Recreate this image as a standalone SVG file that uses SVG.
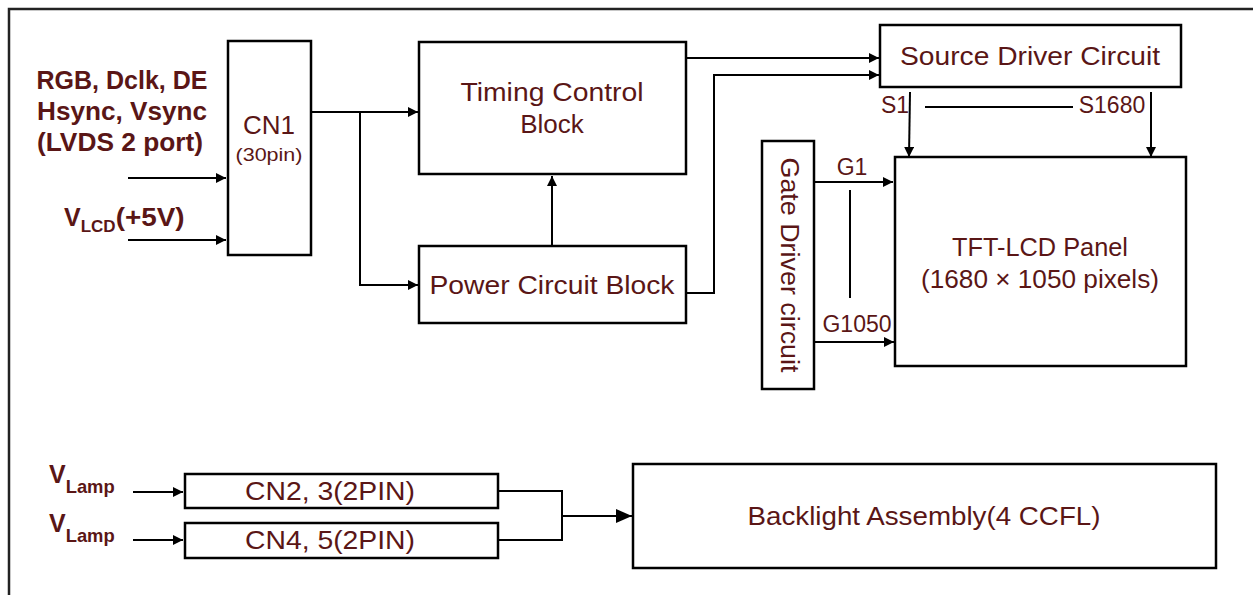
<svg xmlns="http://www.w3.org/2000/svg" width="1253" height="595" viewBox="0 0 1253 595">
<style>
.box{fill:#fff;stroke:#000;stroke-width:2.5}
.ln{fill:none;stroke:#000;stroke-width:2}
.t{font-family:"Liberation Sans",Arial,sans-serif;fill:#5a1616;font-size:26px;text-anchor:middle}
.s{font-family:"Liberation Sans",Arial,sans-serif;fill:#5a1616;font-size:23px;text-anchor:middle}
.b{font-family:"Liberation Sans",Arial,sans-serif;fill:#5a1616;font-size:25px;font-weight:bold}
</style>
<defs>
<marker id="ah" viewBox="0 0 10 10" refX="10" refY="5" markerWidth="10" markerHeight="10" markerUnits="userSpaceOnUse" orient="auto">
<path d="M0,0 L10,5 L0,10 z" fill="#000"/>
</marker>
<marker id="ahL" viewBox="0 0 16 14" refX="16" refY="7" markerWidth="16" markerHeight="14" markerUnits="userSpaceOnUse" orient="auto">
<path d="M0,0 L16,7 L0,14 z" fill="#000"/>
</marker>
</defs>
<rect x="0" y="0" width="1253" height="595" fill="#fff"/>
<rect x="9" y="9" width="1260" height="600" fill="none" stroke="#222" stroke-width="2.5"/>

<g id="labels">
<text class="b" x="122" y="89" text-anchor="middle" textLength="171" lengthAdjust="spacingAndGlyphs">RGB, Dclk, DE</text>
<text class="b" x="122" y="120" text-anchor="middle" textLength="170" lengthAdjust="spacingAndGlyphs">Hsync, Vsync</text>
<text class="b" x="120" y="151" text-anchor="middle" textLength="166" lengthAdjust="spacingAndGlyphs">(LVDS 2 port)</text>
<text class="b" x="64" y="226">V<tspan style="font-size:17px" dy="6">LCD</tspan><tspan dy="-6" textLength="69" lengthAdjust="spacingAndGlyphs">(+5V)</tspan></text>
<text class="b" x="49" y="483">V<tspan style="font-size:19px" dy="10" textLength="49" lengthAdjust="spacingAndGlyphs">Lamp</tspan></text>
<text class="b" x="49" y="532">V<tspan style="font-size:19px" dy="10" textLength="49" lengthAdjust="spacingAndGlyphs">Lamp</tspan></text>
</g>

<g id="cn1">
<rect class="box" x="228" y="41" width="83" height="214"/>
<text class="t" x="269" y="134">CN1</text>
<text class="t" x="269" y="161" style="font-size:18px" textLength="67" lengthAdjust="spacingAndGlyphs">(30pin)</text>
</g>
<g id="timing">
<rect class="box" x="419" y="42" width="267" height="132"/>
<text class="t" x="552" y="101" textLength="183" lengthAdjust="spacingAndGlyphs">Timing Control</text>
<text class="t" x="552" y="133">Block</text>
</g>
<g id="power">
<rect class="box" x="419" y="246" width="267" height="77"/>
<text class="t" x="552" y="294" textLength="245" lengthAdjust="spacingAndGlyphs">Power Circuit Block</text>
</g>
<g id="source">
<rect class="box" x="880" y="25" width="301" height="62"/>
<text class="t" x="1030" y="65" textLength="260" lengthAdjust="spacingAndGlyphs">Source Driver Circuit</text>
</g>
<g id="gate">
<rect class="box" x="762" y="141" width="52" height="248"/>
<text class="t" transform="translate(781,265) rotate(90)" x="0" y="0" textLength="215" lengthAdjust="spacingAndGlyphs">Gate Driver circuit</text>
</g>
<g id="panel">
<rect class="box" x="895" y="157" width="291" height="209"/>
<text class="t" x="1040" y="256" textLength="176" lengthAdjust="spacingAndGlyphs">TFT-LCD Panel</text>
<text class="t" x="1040" y="288" textLength="238" lengthAdjust="spacingAndGlyphs">(1680 × 1050 pixels)</text>
</g>
<g id="cn23">
<rect class="box" x="185" y="474" width="313" height="34"/>
<text class="t" x="330" y="500" textLength="170" lengthAdjust="spacingAndGlyphs">CN2, 3(2PIN)</text>
</g>
<g id="cn45">
<rect class="box" x="185" y="523" width="313" height="35"/>
<text class="t" x="330" y="549" textLength="170" lengthAdjust="spacingAndGlyphs">CN4, 5(2PIN)</text>
</g>
<g id="backlight">
<rect class="box" x="633" y="464" width="583" height="104"/>
<text class="t" x="924" y="525" textLength="353" lengthAdjust="spacingAndGlyphs">Backlight Assembly(4 CCFL)</text>
</g>

<g id="signal-labels">
<text class="s" x="895" y="113">S1</text>
<text class="s" x="1112" y="113">S1680</text>
<text class="s" x="852" y="175">G1</text>
<text class="s" x="857" y="332">G1050</text>
</g>

<g id="connectors">
<line class="ln" x1="128" y1="178" x2="226" y2="178" marker-end="url(#ah)"/>
<line class="ln" x1="128" y1="240" x2="226" y2="240" marker-end="url(#ah)"/>
<line class="ln" x1="311" y1="112" x2="418" y2="112" marker-end="url(#ah)"/>
<polyline class="ln" points="360,112 360,285 418,285" marker-end="url(#ah)"/>
<line class="ln" x1="552" y1="246" x2="552" y2="176" marker-end="url(#ah)"/>
<line class="ln" x1="686" y1="58" x2="879" y2="58" marker-end="url(#ah)"/>
<polyline class="ln" points="686,293 714,293 714,75 879,75" marker-end="url(#ah)"/>
<line class="ln" x1="910" y1="92" x2="909" y2="157" marker-end="url(#ah)"/>
<line class="ln" x1="1151" y1="92" x2="1151" y2="157" marker-end="url(#ah)"/>
<line class="ln" x1="925" y1="107" x2="1073" y2="107"/>
<line class="ln" x1="814" y1="182" x2="893" y2="182" marker-end="url(#ah)"/>
<line class="ln" x1="850" y1="190" x2="850" y2="298"/>
<line class="ln" x1="814" y1="342" x2="894" y2="342" marker-end="url(#ah)"/>
<line class="ln" x1="133" y1="492" x2="183" y2="492" marker-end="url(#ah)"/>
<line class="ln" x1="133" y1="540" x2="183" y2="540" marker-end="url(#ah)"/>
<polyline class="ln" points="498,491 562,491 562,540 498,540"/>
<line class="ln" x1="562" y1="516" x2="632" y2="516" marker-end="url(#ahL)"/>
</g>
</svg>
